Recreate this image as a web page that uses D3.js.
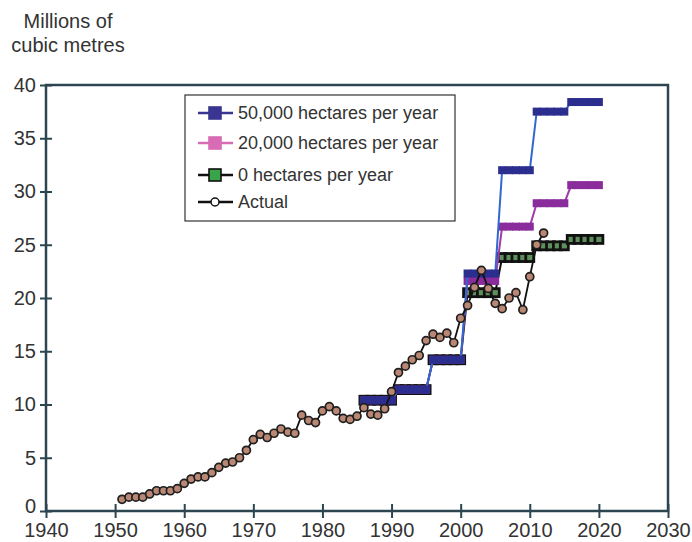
<!DOCTYPE html>
<html>
<head>
<meta charset="utf-8">
<script src="https://cdn.jsdelivr.net/npm/d3@7"></script>
<style>
  html, body { margin: 0; padding: 0; background: #ffffff; }
  svg { display: block; }
  text { font-family: "Liberation Sans", Arial, Helvetica, sans-serif; fill: #333; }
</style>
</head>
<body>
<svg id="chart" width="692" height="542"></svg>
<script>
// ---------- data ----------
const xTicks = [1940, 1950, 1960, 1970, 1980, 1990, 2000, 2010, 2020, 2030];
const yTicks = [0, 5, 10, 15, 20, 25, 30, 35, 40];
const titleLines = ["Millions of", "cubic metres"];
const legendLabels = ["50,000 hectares per year", "20,000 hectares per year", "0 hectares per year", "Actual"];

const actualYears = [1951,1952,1953,1954,1955,1956,1957,1958,1959,1960,
  1961,1962,1963,1964,1965,1966,1967,1968,1969,1970,
  1971,1972,1973,1974,1975,1976,1977,1978,1979,1980,
  1981,1982,1983,1984,1985,1986,1987,1988,1989,1990,
  1991,1992,1993,1994,1995,1996,1997,1998,1999,2000,
  2001,2002,2003,2004,2005,2006,2007,2008,2009,2010,
  2011,2012];
const actualValues = [1.1,1.3,1.3,1.3,1.6,1.9,1.9,1.9,2.1,2.6,
  3.0,3.2,3.2,3.6,4.1,4.5,4.6,5.0,5.7,6.7,
  7.2,6.9,7.3,7.7,7.4,7.3,9.0,8.5,8.3,9.4,
  9.8,9.4,8.7,8.6,8.9,9.7,9.1,9.0,9.6,11.2,
  13.0,13.6,14.2,14.6,16.0,16.6,16.3,16.7,15.8,18.1,
  19.3,21.0,22.6,20.9,19.5,19.0,20.0,20.5,18.9,22.0,
  25.0,26.1];

const projYears = d3.range(1986, 2021);
// one value per projection year, 1986..2020 (five-year steps)
const proj50000 = [10.4,10.4,10.4,10.4,10.4, 11.4,11.4,11.4,11.4,11.4, 14.2,14.2,14.2,14.2,14.2,
  22.3,22.3,22.3,22.3,22.3, 32.0,32.0,32.0,32.0,32.0, 37.5,37.5,37.5,37.5,37.5, 38.4,38.4,38.4,38.4,38.4];
const proj20000 = [10.4,10.4,10.4,10.4,10.4, 11.4,11.4,11.4,11.4,11.4, 14.2,14.2,14.2,14.2,14.2,
  21.6,21.6,21.6,21.6,21.6, 26.7,26.7,26.7,26.7,26.7, 28.9,28.9,28.9,28.9,28.9, 30.6,30.6,30.6,30.6,30.6];
const proj0 = [10.4,10.4,10.4,10.4,10.4, 11.4,11.4,11.4,11.4,11.4, 14.2,14.2,14.2,14.2,14.2,
  20.5,20.5,20.5,20.5,20.5, 23.8,23.8,23.8,23.8,23.8, 24.9,24.9,24.9,24.9,24.9, 25.5,25.5,25.5,25.5,25.5];

// ---------- layout ----------
const svg = d3.select("#chart");
const x = d3.scaleLinear().domain([1940, 2030]).range([46, 668]);
const y = d3.scaleLinear().domain([0, 40]).range([511, 85]);
const frameColor = "#2c4651";

// title
svg.append("g").selectAll("text").data(titleLines).join("text")
  .attr("x", 68).attr("y", (d, i) => 28 + i * 24)
  .attr("text-anchor", "middle").attr("font-size", 20).attr("fill", "#333")
  .text(d => d);

// axes (labels via d3 axes)
const xAxis = svg.append("g").attr("transform", `translate(0,${y(0)})`)
  .call(d3.axisBottom(x).tickValues(xTicks).tickFormat(d3.format("d")).tickSize(7).tickPadding(5));
const xAxisIn = svg.append("g").attr("transform", `translate(0,${y(0)})`)
  .call(d3.axisTop(x).tickValues(xTicks).tickFormat("").tickSize(7));
const yAxis = svg.append("g").attr("transform", `translate(${x(1940)},0)`)
  .call(d3.axisLeft(y).tickValues(yTicks).tickSize(6).tickPadding(4));
const yAxisIn = svg.append("g").attr("transform", `translate(${x(1940)},0)`)
  .call(d3.axisRight(y).tickValues(yTicks).tickFormat("").tickSize(6));
[xAxis, xAxisIn, yAxis, yAxisIn].forEach(g => {
  g.select(".domain").remove();
  g.selectAll(".tick line").attr("stroke", frameColor).attr("stroke-width", 2);
  g.selectAll(".tick text").attr("font-size", 20).attr("fill", "#333")
    .attr("font-family", "'Liberation Sans', Arial, sans-serif");
});
// lift the "0" label slightly so it clears the 1940 label, as in the reference
yAxis.selectAll(".tick text").filter(d => d === 0).attr("y", -5);

// frame
svg.append("rect").attr("x", x(1940)).attr("y", y(40))
  .attr("width", x(2030) - x(1940)).attr("height", y(0) - y(40))
  .attr("fill", "none").attr("stroke", frameColor).attr("stroke-width", 2.5);

// ---------- projection series ----------
const line = d3.line().x(d => x(d[0])).y(d => y(d[1]));
const series = [
  { values: proj0, line: "#111111", fill: "#5f8f5c", stroke: "#111111", sw: 2.8 },
  { values: proj20000, line: "#a23aa8", fill: "#8b2c9d", stroke: "#8b2c9d", sw: 0 },
  { values: proj50000, line: "#3168d0", fill: "#2b2e8e", stroke: "#2b2e8e", sw: 0 }
];
const ms = 8;
series.forEach(s => {
  const pts = projYears.map((yr, i) => [yr, s.values[i]]);
  const g = svg.append("g");
  g.append("path").datum(pts).attr("d", line)
    .attr("fill", "none").attr("stroke", s.line).attr("stroke-width", 2);
  g.selectAll("rect").data(pts).join("rect")
    .attr("x", d => x(d[0]) - ms / 2).attr("y", d => y(d[1]) - ms / 2)
    .attr("width", ms).attr("height", ms)
    .attr("fill", s.fill)
    .attr("stroke", s.sw ? s.stroke : "none").attr("stroke-width", s.sw);
});

// ---------- actual series ----------
const actualPts = actualYears.map((yr, i) => [yr, actualValues[i]]);
const ag = svg.append("g");
ag.append("path").datum(actualPts).attr("d", line)
  .attr("fill", "none").attr("stroke", "#111").attr("stroke-width", 1.8);
ag.selectAll("circle").data(actualPts).join("circle")
  .attr("cx", d => x(d[0])).attr("cy", d => y(d[1])).attr("r", 4)
  .attr("fill", "#b98773").attr("stroke", "#1f1f1f").attr("stroke-width", 1.7);

// ---------- legend ----------
const lg = svg.append("g");
lg.append("rect").attr("x", 185).attr("y", 95).attr("width", 270).attr("height", 126)
  .attr("fill", "#ffffff").attr("stroke", "#333").attr("stroke-width", 1.2);
const legendStyle = [
  { line: "#3a3590", fill: "#3a3590", stroke: "#3a3590", shape: "square" },
  { line: "#d86cb4", fill: "#d86cb4", stroke: "#d86cb4", shape: "square" },
  { line: "#111111", fill: "#3aa548", stroke: "#111111", shape: "square" },
  { line: "#111111", fill: "#ffffff", stroke: "#111111", shape: "circle" }
];
const legendY = [113, 143, 175, 202];
legendLabels.forEach((lab, i) => {
  const st = legendStyle[i];
  const cy = legendY[i];
  lg.append("line").attr("x1", 198).attr("x2", 233).attr("y1", cy).attr("y2", cy)
    .attr("stroke", st.line).attr("stroke-width", 2.5);
  if (st.shape === "square") {
    lg.append("rect").attr("x", 209).attr("y", cy - 6).attr("width", 12).attr("height", 12)
      .attr("fill", st.fill).attr("stroke", st.stroke).attr("stroke-width", 1.6);
  } else {
    lg.append("circle").attr("cx", 215).attr("cy", cy).attr("r", 4)
      .attr("fill", st.fill).attr("stroke", st.stroke).attr("stroke-width", 1.5);
  }
  lg.append("text").attr("x", 238).attr("y", cy).attr("dy", "0.35em")
    .attr("font-size", 18).attr("fill", "#333").text(lab);
});
</script>
</body>
</html>
